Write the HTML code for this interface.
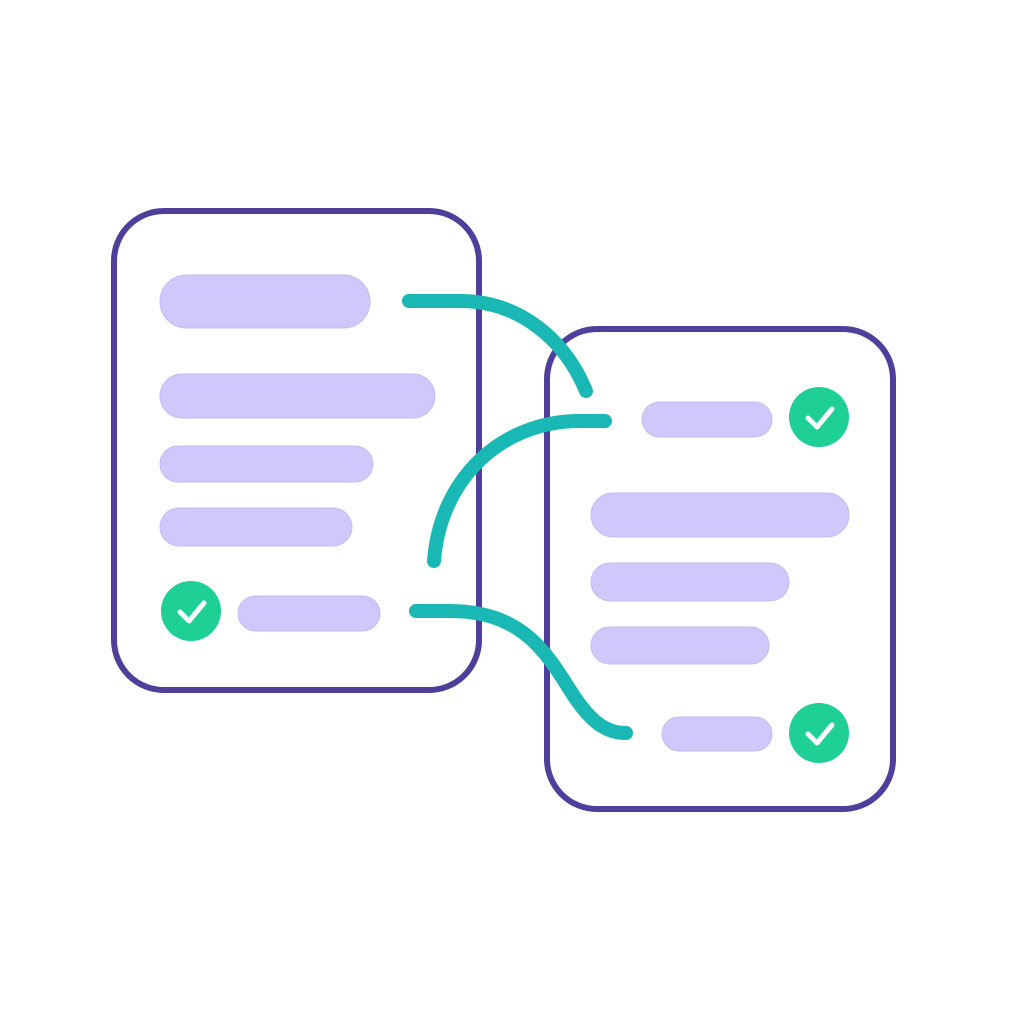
<!DOCTYPE html>
<html><head><meta charset="utf-8"><style>html,body{margin:0;padding:0;background:#fff}svg{display:block}</style></head>
<body>
<svg width="1024" height="1024" viewBox="0 0 1024 1024" xmlns="http://www.w3.org/2000/svg">
<rect width="1024" height="1024" fill="#fff"/>
<g fill="#fff" stroke="#4f3f9a" stroke-width="6">
<rect x="114" y="211" width="365" height="479" rx="50"/>
<rect x="547" y="329" width="346" height="480" rx="50"/>
</g>
<g fill="#d0c8fb" stroke="#c4bbf3" stroke-width="1">
<rect x="160" y="275" width="210" height="53" rx="26.5"/>
<rect x="160" y="374" width="275" height="44" rx="22"/>
<rect x="160" y="446" width="213" height="36" rx="18"/>
<rect x="160" y="508" width="192" height="38" rx="19"/>
<rect x="238" y="596" width="142" height="35" rx="17.5"/>
<rect x="642" y="402" width="130" height="35" rx="17.5"/>
<rect x="591" y="493" width="258" height="44" rx="22"/>
<rect x="591" y="563" width="198" height="38" rx="19"/>
<rect x="591" y="627" width="178" height="37" rx="18.5"/>
<rect x="662" y="717" width="110" height="34" rx="17"/>
</g>
<g>
<circle cx="191" cy="611" r="30" fill="#1ecf96"/>
<circle cx="819" cy="417" r="30" fill="#1ecf96"/>
<circle cx="819" cy="733" r="30" fill="#1ecf96"/>
</g>
<g fill="none" stroke="#fff" stroke-width="5" stroke-linecap="round" stroke-linejoin="round">
<path d="M180,612 L189,621 L204,603"/>
<path d="M808,418 L817,427 L832,409"/>
<path d="M808,734 L817,743 L832,725"/>
</g>
<g fill="none" stroke="#1ab8b4" stroke-width="14" stroke-linecap="round">
<path d="M409,301 L460,301 C520,301 565,340 586,391"/>
<path d="M605,421 L580,421 C500,421 440,480 434,561"/>
<path d="M416,611 L450,611 C520,611 545,650 570,690 C590,722 606,733 626,733"/>
</g>
</svg>
</body></html>
